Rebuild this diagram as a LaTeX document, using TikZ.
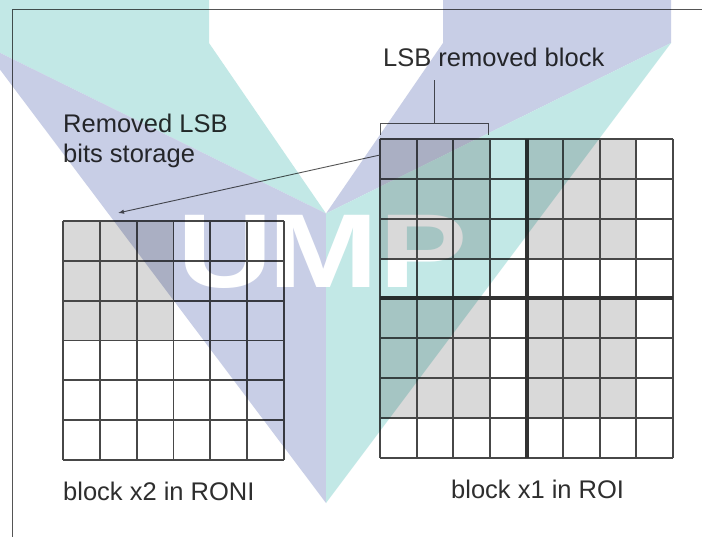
\documentclass[tikz,border=0pt]{standalone}
\usepackage{fontspec}
\usepackage{graphicx}
\setmainfont{Liberation Sans}
\usetikzlibrary{arrows.meta}

\definecolor{cellgray}{HTML}{D9D9D9}
\definecolor{gridline}{HTML}{474747}
\definecolor{inkgray}{HTML}{2E2E2E}
\definecolor{framecol}{HTML}{555555}
\definecolor{wmteal}{HTML}{C2E8E6}
\definecolor{wmlav}{HTML}{C8CEE6}

\begin{document}
\begin{tikzpicture}[x=1pt,y=-1pt,
  lbl/.style={font=\fontsize{25.5}{30}\selectfont, text=inkgray, inner sep=0pt, anchor=base west},
  gridln/.style={draw=gridline, line width=1.8pt},
  midln/.style={draw=gridline!70!black, line width=4pt},
  thinln/.style={draw=framecol, line width=1pt},
  pointer/.style={draw=framecol, line width=0.9pt, -{Latex[length=6pt,width=4.5pt]}},
  logoletter/.style={font=\fontsize{105}{105}\bfseries, text=white, inner sep=0pt, anchor=base, blend mode=normal}]
\useasboundingbox (0,0) rectangle (702,537);
\fill[white] (0,0) rectangle (702,537);

% page frame
\coordinate (frameBL) at (12,537);
\coordinate (frameTL) at (12,9.5);
\coordinate (frameTR) at (702,9.5);
\draw[thinln] (frameBL) -- (frameTL) -- (frameTR);

% ---- block x2 in RONI : 6 x 6 cells, 3 x 3 storage corner ----
\fill[cellgray] (63,221) rectangle ++({3*36.833},{3*39.833});
\foreach \i in {0,...,6} {
  \draw[gridln] ({63+\i*36.833},221) -- ({63+\i*36.833},460);
  \draw[gridln] (63,{221+\i*39.833}) -- (284,{221+\i*39.833});
}

% ---- block x1 in ROI : 8 x 8 cells in four 4 x 4 sub-blocks ----
\foreach \qx/\qy in {0/0,4/0,0/4,4/4}
  \fill[cellgray] ({380+\qx*36.625},{139+\qy*39.875}) rectangle ++({3*36.625},{3*39.875});
\foreach \i in {0,...,8} {
  \draw[gridln] ({380+\i*36.625},139) -- ({380+\i*36.625},458);
  \draw[gridln] (380,{139+\i*39.875}) -- (673,{139+\i*39.875});
}
\draw[midln] (526.5,139) -- (526.5,458);
\draw[midln] (380,298.5) -- (673,298.5);

% ---- labels ----
\node[lbl] (lsbTitle) at (383,67) {LSB removed block};
\node[lbl] (storeA) at (63,133) {Removed LSB};
\node[lbl] (storeB) at (63,163) {bits storage};
\node[lbl] (roniLbl) at (63,500) {block x2 in RONI};
\node[lbl] (roiLbl) at (451,498) {block x1 in ROI};

% bracket over the first three cells
\coordinate (brL) at (380,135);
\coordinate (brLt) at (380,124);
\coordinate (brRt) at (488,124);
\coordinate (brR) at (488,135);
\coordinate (brMid) at (434,124);
\coordinate (stemTop) at (434,80);
\draw[thinln] (brL) -- (brLt) -- (brRt) -- (brR);
\draw[thinln] (brMid) -- (stemTop);

% pointer from the ROI block to the storage corner
\coordinate (roiCorner) at (380,155);
\coordinate (storeTip) at (118,213);
\draw[pointer] (roiCorner) -- (storeTip);

% ---- background logo, multiplied over the drawing ----
\begin{scope}[blend mode=multiply]
\begin{scope}[transparency group]
  \fill[wmteal] (-20,-5) -- (209,-5) -- (209,43) -- (326,213.5) -- (-20,43) -- cycle;
  \fill[wmlav] (443,-5) -- (671,-5) -- (671,43) -- (326,213.5) -- (443,43) -- cycle;
  \fill[wmlav] (-20,43) -- (326,213.5) -- (326,503) -- cycle;
  \fill[wmteal] (671,43) -- (326,213.5) -- (326,503) -- cycle;
  \node[logoletter] (logoU) at (225,288) {\scalebox{1.26}[1]{U}};
  \node[logoletter] (logoM) at (323.5,288) {\scalebox{1.26}[1]{M}};
  \node[logoletter] (logoP) at (424,288) {\scalebox{1.26}[1]{P}};
\end{scope}
\end{scope}
\end{tikzpicture}
\end{document}
